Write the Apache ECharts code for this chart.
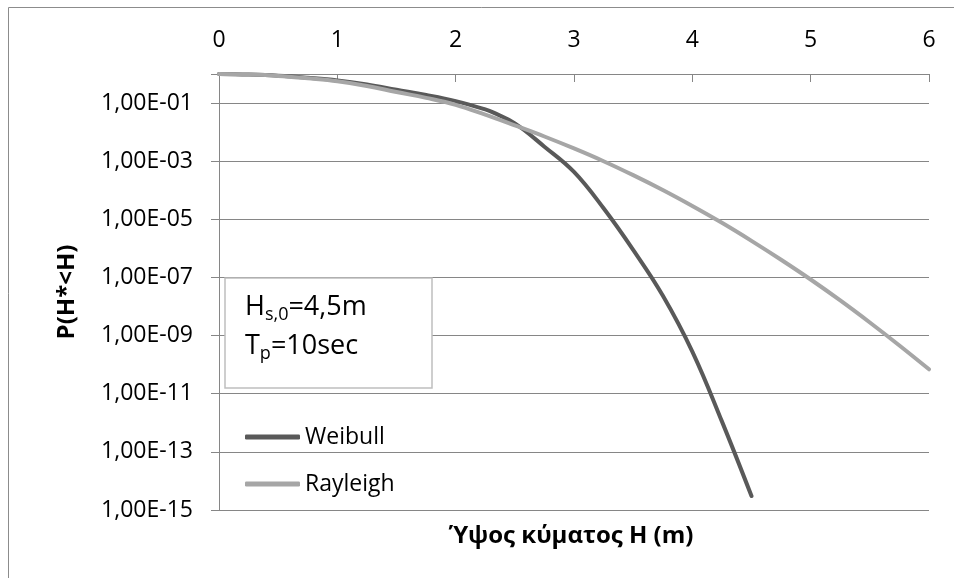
<!DOCTYPE html>
<html>
<head>
<meta charset="utf-8">
<script src="https://cdn.jsdelivr.net/npm/echarts@6/dist/echarts.min.js"></script>
<style>
  html, body { margin: 0; padding: 0; background: #ffffff; }
  #chart { width: 954px; height: 578px; }
</style>
</head>
<body>
<div id="chart"></div>
<script>
// Wave height H (m) and exceedance probability P(H*<H) for each distribution
const hWeibull = [0, 0.25, 0.5, 0.75, 1.0, 1.25, 1.5, 1.75, 2.0, 2.25, 2.32, 2.5, 2.75, 3.0, 3.25, 3.5, 3.75, 4.0, 4.25, 4.5];
const pWeibull = [1, 0.955, 0.871, 0.741, 0.603, 0.437, 0.288, 0.191, 0.117, 0.0603, 0.0468, 0.0200, 3.16e-3, 4.27e-4, 2.40e-5, 8.91e-7, 2.40e-8, 2.82e-10, 1.12e-12, 3.02e-15];

const hRayleigh = [0, 0.25, 0.5, 0.75, 1.0, 1.25, 1.5, 1.75, 2.0, 2.25, 2.5, 2.75, 3.0, 3.25, 3.5, 3.75, 4.0, 4.25, 4.5, 4.75, 5.0, 5.25, 5.5, 5.75, 6.0];
const pRayleigh = [1, 0.955, 0.861, 0.708, 0.562, 0.389, 0.240, 0.151, 0.0871, 0.0398, 0.0170, 7.08e-3, 2.75e-3, 1.00e-3, 3.31e-4, 1.02e-4, 2.88e-5, 7.59e-6, 1.82e-6, 4.07e-7, 8.51e-8, 1.62e-8, 2.82e-9, 4.57e-10, 6.92e-11];

const seriesNames = ['Weibull', 'Rayleigh'];
const seriesColors = ['#595959', '#a6a6a6'];

// Axis ranges
const xMin = 0, xMax = 6, xStep = 1;
const yMin = 1e-15, yMax = 1, yDecadeStep = 2;

const FONT = '"Open Sans", "DejaVu Sans", sans-serif';
const GRID_GRAY = '#868686';

function pairs(xs, ys) {
  return xs.map((x, i) => [x, ys[i]]);
}

// Excel-style scientific label: 1,00E-05
function sciLabel(v) {
  const e = Math.round(Math.log10(v));
  if (e === 0) return '';
  const sign = e < 0 ? '-' : '+';
  const a = Math.abs(e);
  return '1,00E' + sign + (a < 10 ? '0' + a : String(a));
}

const chart = echarts.init(document.getElementById('chart'), null, { renderer: 'canvas' });

const lineSeries = (name, data, color) => ({
  name: name,
  type: 'line',
  data: data,
  showSymbol: false,
  symbol: 'none',
  smooth: 0.4,
  lineStyle: { color: color, width: 4, cap: 'round', join: 'round' },
  itemStyle: { color: color },
  emphasis: { disabled: true },
  animation: false
});

const richSub = {
  m: { fontFamily: FONT, fontSize: 27, lineHeight: 30, fill: '#000', verticalAlign: 'top' },
  s: { fontFamily: FONT, fontSize: 18, lineHeight: 9, fill: '#000', verticalAlign: 'bottom' }
};

chart.setOption({
  animation: false,
  backgroundColor: '#ffffff',
  grid: { left: 219, right: 25, top: 74, bottom: 68, containLabel: false, outerBoundsMode: 'none' },
  legend: {
    data: seriesNames,
    orient: 'vertical',
    left: 240,
    top: 420,
    itemWidth: 55,
    itemHeight: 5,
    itemGap: 23,
    icon: 'roundRect',
    textStyle: { fontFamily: FONT, fontSize: 23, color: '#000', lineHeight: 24 },
    selectedMode: false
  },
  xAxis: {
    type: 'value',
    position: 'top',
    min: xMin,
    max: xMax,
    interval: xStep,
    axisLine: { show: true, onZero: false, lineStyle: { color: GRID_GRAY, width: 1 } },
    axisTick: { show: true, inside: true, length: 8, lineStyle: { color: GRID_GRAY, width: 1 } },
    axisLabel: { fontFamily: FONT, fontSize: 23, color: '#000', margin: 22 },
    splitLine: { show: false }
  },
  yAxis: {
    type: 'log',
    logBase: 10,
    min: yMin,
    max: yMax,
    interval: yDecadeStep,
    name: 'P(H*<H)',
    nameLocation: 'middle',
    nameRotate: 90,
    nameGap: 140,
    nameTextStyle: { fontFamily: FONT, fontSize: 24, fontWeight: 'bold', color: '#000' },
    axisLine: { show: true, lineStyle: { color: GRID_GRAY, width: 1 } },
    axisTick: { show: true, inside: false, length: 8, lineStyle: { color: GRID_GRAY, width: 1 } },
    minorTick: { show: false },
    axisLabel: { fontFamily: FONT, fontSize: 23, color: '#000', margin: 26, formatter: sciLabel },
    splitLine: { show: true, lineStyle: { color: GRID_GRAY, width: 1 } }
  },
  series: [
    lineSeries(seriesNames[0], pairs(hWeibull, pWeibull), seriesColors[0]),
    lineSeries(seriesNames[1], pairs(hRayleigh, pRayleigh), seriesColors[1])
  ],
  graphic: [
    {
      type: 'rect', silent: true, z: 0,
      shape: { x: 8.5, y: 7.5, width: 1200, height: 1200 },
      style: { fill: 'none', stroke: '#8c8c8c', lineWidth: 1 }
    },
    {
      type: 'rect', silent: true, z: 50,
      shape: { x: 225, y: 278, width: 207, height: 110 },
      style: { fill: '#ffffff', stroke: '#bfbfbf', lineWidth: 1.5 }
    },
    {
      type: 'text', silent: true, z: 51,
      x: 245, y: 294,
      style: { text: '{m|H}{s|s,0}{m|=4,5m}', verticalAlign: 'top', rich: richSub }
    },
    {
      type: 'text', silent: true, z: 51,
      x: 245, y: 333,
      style: { text: '{m|T}{s|p}{m|=10sec}', verticalAlign: 'top', rich: richSub }
    },
    {
      type: 'text', silent: true, z: 51,
      x: 571, y: 536,
      style: {
        text: 'Ύψος κύματος Η (m)',
        fontFamily: FONT, fontSize: 24, fontWeight: 'bold', fill: '#000',
        align: 'center', verticalAlign: 'middle'
      }
    }
  ]
});
</script>
</body>
</html>
